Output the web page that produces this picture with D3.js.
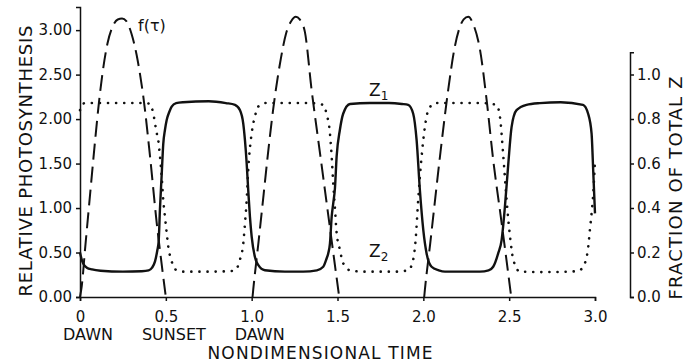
<!DOCTYPE html>
<html>
<head>
<meta charset="utf-8">
<script src="https://cdn.jsdelivr.net/npm/d3@7"></script>
<style>
  body { margin: 0; background: #fff; }
  svg text { font-family: "DejaVu Sans", sans-serif; fill: #111; }
</style>
</head>
<body>
<script>
// tick values
var xTicks = [0, 0.5, 1.0, 1.5, 2.0, 2.5, 3.0];
var xTickLabels = ['0', '0.5', '1.0', '1.5', '2.0', '2.5', '3.0'];
var yTicks = [0, 0.5, 1.0, 1.5, 2.0, 2.5, 3.0];
var rightTicks = [0, 0.2, 0.4, 0.6, 0.8, 1.0];
var dayTimes = [0, 0.5, 1.0];
var dayNames = ['DAWN', 'SUNSET', 'DAWN'];

// f(tau), light forcing (null = night, no line)
var fTime = [0, 0.01, 0.03, 0.06, 0.09, 0.11, 0.13, 0.16, 0.19, 0.22, 0.245, 0.27, 0.30, 0.33, 0.35, 0.369, 0.408, 0.447, 0.475, 0.50,
             0.75,
             1.005, 1.009, 1.04, 1.07, 1.10, 1.126, 1.17, 1.20, 1.23, 1.257, 1.28, 1.31, 1.349, 1.40, 1.44, 1.48, 1.51,
             1.75,
             2.005, 2.009, 2.04, 2.07, 2.10, 2.145, 2.18, 2.21, 2.235, 2.262, 2.29, 2.33, 2.369, 2.407, 2.45, 2.48, 2.512];
var fValue = [0, 0.12, 0.55, 1.18, 1.80, 2.18, 2.50, 2.85, 3.04, 3.12, 3.13, 3.10, 2.96, 2.72, 2.50, 2.25, 1.58, 0.83, 0.38, 0,
              null,
              0, 0.08, 0.62, 1.16, 1.70, 2.12, 2.68, 2.96, 3.10, 3.15, 3.12, 2.98, 2.33, 1.59, 1.01, 0.43, 0,
              null,
              0, 0.08, 0.60, 1.12, 1.63, 2.33, 2.78, 3.02, 3.12, 3.15, 3.07, 2.78, 2.21, 1.54, 0.92, 0.48, 0];

// Z1 (solid)
var z1Time = [0, 0.01, 0.02, 0.04, 0.07, 0.12, 0.25, 0.36, 0.40, 0.42, 0.437, 0.45, 0.458, 0.466, 0.476, 0.485, 0.495, 0.505, 0.52, 0.534, 0.56, 0.60, 0.75, 0.85, 0.903, 0.932, 0.951, 0.961, 0.971, 0.98, 0.99,
              1.0, 1.019, 1.038, 1.077, 1.194, 1.30, 1.38, 1.417, 1.436, 1.446, 1.456, 1.466, 1.475, 1.485, 1.495, 1.514, 1.533, 1.573, 1.689, 1.80, 1.875, 1.912, 1.941, 1.961, 1.98,
              2.0, 2.019, 2.048, 2.09, 2.126, 2.25, 2.33, 2.38, 2.407, 2.436, 2.456, 2.475, 2.495, 2.514, 2.543, 2.601, 2.679, 2.80, 2.93, 2.96, 2.98, 2.99, 3.0];
var z1Value = [0.50, 0.42, 0.37, 0.33, 0.31, 0.295, 0.285, 0.29, 0.30, 0.33, 0.40, 0.52, 0.62, 1.00, 1.38, 1.72, 1.88, 1.99, 2.08, 2.14, 2.18, 2.19, 2.20, 2.18, 2.16, 2.10, 1.95, 1.76, 1.50, 1.20, 0.90,
               0.68, 0.45, 0.36, 0.30, 0.285, 0.285, 0.30, 0.34, 0.43, 0.49, 0.60, 0.90, 1.05, 1.22, 1.58, 1.88, 2.06, 2.17, 2.18, 2.18, 2.17, 2.16, 2.06, 1.76, 1.20,
               0.75, 0.49, 0.34, 0.30, 0.285, 0.285, 0.285, 0.30, 0.34, 0.49, 0.64, 1.01, 1.50, 1.91, 2.10, 2.16, 2.18, 2.19, 2.16, 2.06, 1.84, 1.40, 0.94];

// Z2 (dotted)
var z2Time = [0, 0.01, 0.03, 0.20, 0.38, 0.408, 0.427, 0.446, 0.456, 0.466, 0.476, 0.485, 0.495, 0.505, 0.514, 0.534, 0.563, 0.60, 0.75, 0.87, 0.903, 0.932, 0.951, 0.961, 0.971, 0.98,
              1.0, 1.019, 1.038, 1.077, 1.25, 1.34, 1.417, 1.436, 1.456, 1.466, 1.475, 1.485, 1.495, 1.514, 1.533, 1.573, 1.65, 1.835, 1.912, 1.941, 1.955, 1.97, 1.99,
              2.009, 2.029, 2.068, 2.20, 2.33, 2.426, 2.446, 2.466, 2.485, 2.505, 2.524, 2.563, 2.70, 2.90, 2.941, 2.961, 2.97, 2.98, 2.99, 3.0];
var z2Value = [2.10, 2.16, 2.18, 2.18, 2.18, 2.17, 2.06, 1.85, 1.76, 1.58, 1.35, 1.09, 0.90, 0.72, 0.57, 0.40, 0.30, 0.285, 0.285, 0.29, 0.30, 0.42, 0.60, 0.83, 1.09, 1.43,
               1.84, 2.03, 2.14, 2.18, 2.18, 2.18, 2.16, 2.06, 1.84, 1.58, 1.28, 1.00, 0.72, 0.53, 0.38, 0.30, 0.285, 0.285, 0.30, 0.42, 0.64, 1.09, 1.58,
               1.91, 2.10, 2.18, 2.18, 2.18, 2.16, 2.03, 1.58, 1.09, 0.68, 0.42, 0.285, 0.28, 0.29, 0.38, 0.57, 0.75, 0.94, 1.17, 1.54];

var width = 697, height = 363;

var svg = d3.select('body')
  .append('svg')
  .attr('width', width)
  .attr('height', height);

var x = d3.scaleLinear().domain([0, 3]).range([80, 595]);
var y = d3.scaleLinear().domain([0, 3.26]).range([297, 7]);
var yRight = d3.scaleLinear().domain([0, 1.1]).range([297, 297 - 1.1 * 222.5]);

function zip(t, v) {
  return t.map(function(d, i) { return { t: d, v: v[i] }; });
}

var line = d3.line()
  .defined(function(d) { return d.v != null; })
  .x(function(d) { return x(d.t); })
  .y(function(d) { return y(d.v); })
  .curve(d3.curveMonotoneX);

// axes
var xAxis = svg.append('g')
  .attr('transform', 'translate(0,297)')
  .call(d3.axisBottom(x).tickValues(xTicks)
    .tickFormat(function(d, i) { return xTickLabels[i]; })
    .tickSize(4).tickPadding(10));

var yAxis = svg.append('g')
  .attr('transform', 'translate(80,0)')
  .call(d3.axisLeft(y).tickValues(yTicks).tickFormat(d3.format('.2f'))
    .tickSize(4).tickPadding(4));

var rAxis = svg.append('g')
  .attr('transform', 'translate(630,0)')
  .call(d3.axisRight(yRight).tickValues(rightTicks).tickFormat(d3.format('.1f'))
    .tickSize(4).tickPadding(3));

svg.selectAll('.domain, .tick line')
  .attr('stroke', '#111')
  .attr('stroke-width', 1.5);
svg.selectAll('.tick text')
  .style('font-family', '"DejaVu Sans", sans-serif')
  .attr('font-size', 15)
  .attr('fill', '#111');

// curves
svg.append('path')
  .datum(zip(z2Time, z2Value))
  .attr('d', line)
  .attr('fill', 'none')
  .attr('stroke', '#111')
  .attr('stroke-width', 2.6)
  .attr('stroke-linecap', 'round')
  .attr('stroke-dasharray', '0.1,8');

svg.append('path')
  .datum(zip(z1Time, z1Value))
  .attr('d', line)
  .attr('fill', 'none')
  .attr('stroke', '#111')
  .attr('stroke-width', 2.4);

svg.append('path')
  .datum(zip(fTime, fValue))
  .attr('d', line)
  .attr('fill', 'none')
  .attr('stroke', '#111')
  .attr('stroke-width', 2)
  .attr('stroke-dasharray', '16,7');

// labels on the curves
svg.append('text')
  .attr('x', 138).attr('y', 31)
  .attr('font-size', 16)
  .text('f(τ)');

var z1Label = svg.append('text').attr('x', 369).attr('y', 96).attr('font-size', 17);
z1Label.append('tspan').text('Z');
z1Label.append('tspan').attr('font-size', 12).attr('dy', 4).text('1');

var z2Label = svg.append('text').attr('x', 369).attr('y', 257).attr('font-size', 17);
z2Label.append('tspan').text('Z');
z2Label.append('tspan').attr('font-size', 12).attr('dy', 4).text('2');

// DAWN / SUNSET under the axis
svg.selectAll('.daylabel')
  .data(dayTimes)
  .enter()
  .append('text')
  .attr('class', 'daylabel')
  .attr('x', function(d) { return x(d) + 8; })
  .attr('y', 340)
  .attr('text-anchor', 'middle')
  .attr('font-size', 16)
  .text(function(d, i) { return dayNames[i]; });

// axis titles
svg.append('text')
  .attr('x', 320).attr('y', 359)
  .attr('text-anchor', 'middle')
  .attr('font-size', 17)
  .attr('textLength', 225)
  .text('NONDIMENSIONAL TIME');

svg.append('text')
  .attr('transform', 'translate(32,161) rotate(-90)')
  .attr('text-anchor', 'middle')
  .attr('font-size', 18)
  .attr('textLength', 271)
  .text('RELATIVE PHOTOSYNTHESIS');

svg.append('text')
  .attr('transform', 'translate(682,188) rotate(-90)')
  .attr('text-anchor', 'middle')
  .attr('font-size', 18)
  .attr('textLength', 223)
  .text('FRACTION OF TOTAL  Z');
</script>
</body>
</html>
